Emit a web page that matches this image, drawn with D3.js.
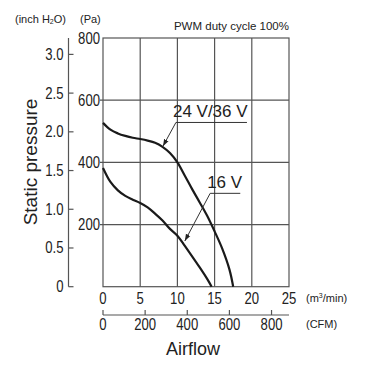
<!DOCTYPE html>
<html><head><meta charset="utf-8">
<script src="https://cdn.jsdelivr.net/npm/d3@7"></script>
<style>
html,body{margin:0;padding:0;background:#fff;}
svg text{font-family:"Liberation Sans",Arial,sans-serif;}
</style></head><body>
<svg id="c" width="365" height="368"></svg>
<script>
// Data (airflow m3/min, static pressure Pa)
const flow24 = [0,1,2,3,4,5,6,7,8,9,10,11,12,13,14,15,16,17,17.5];
const pa24   = [527,505,493,485,479,475,470,463,450,430,400,357,313,271,228,178,124,55,0];
const flow16 = [0,1,2,3,4,5,6,7,8,9,10,11,12,13,14,14.6];
const pa16   = [382,337,310,292,280,269,255,235,213,186,164,131,97,62,25,0];
const xTicks = [0,5,10,15,20,25];
const paTicks = [0,200,400,600,800];
const inchTicks = [0,0.5,1.0,1.5,2.0,2.5,3.0];
const cfmTicks = [0,200,400,600,800];
const seriesLabels = ["24 V/36 V","16 V"];
// label anchor: [textX, textPa, underlineEndX, tipX, tipPa]
const labelPos = [[9.4,546,19.35,8.06,452],[14.0,318,18.45,11.0,147]];

const svg = d3.select("#c");
const x = d3.scaleLinear([0,25],[103,289]);
const y = d3.scaleLinear([0,800],[286.7,38]);
const PA_PER_INCH = 249.089;
const yIn = d3.scaleLinear([0,800/PA_PER_INCH],[286.7,38]);
const xCfm = d3.scaleLinear([0,25*35.3147],[103,289]);
const grid = "#555";
const SX = 0.82, FS = 16;
const cond = (sel, fx, fy) => sel.attr("transform", d => `translate(${fx(d)},${fy(d)}) scale(${SX},1)`)
  .attr("font-size", FS).attr("fill", "#222");

// gridlines
svg.append("g").selectAll("line").data(xTicks.slice(1,-1)).join("line")
  .attr("x1",d=>x(d)).attr("x2",d=>x(d)).attr("y1",y(800)).attr("y2",y(0))
  .attr("stroke",grid).attr("stroke-width",1.2);
svg.append("g").selectAll("line").data(paTicks.slice(1,-1)).join("line")
  .attr("x1",x(0)-3).attr("x2",x(25)).attr("y1",d=>y(d)).attr("y2",d=>y(d))
  .attr("stroke",grid).attr("stroke-width",1.2);
svg.append("rect").attr("x",x(0)).attr("y",y(800)).attr("width",x(25)-x(0)).attr("height",y(0)-y(800))
  .attr("fill","none").attr("stroke",grid).attr("stroke-width",1.2);

// Pa labels
cond(svg.append("g").selectAll("text").data(paTicks.slice(1)).join("text")
  .attr("text-anchor","end").text(d=>d), d=>x(0)-3, d=>y(d)+5.5);

// inch axis
const ix = 68.5;
svg.append("line").attr("x1",ix).attr("x2",ix).attr("y1",y(800)).attr("y2",y(0)).attr("stroke",grid).attr("stroke-width",1.2);
svg.append("g").selectAll("line").data(inchTicks).join("line")
  .attr("x1",ix).attr("x2",ix+5).attr("y1",d=>yIn(d)).attr("y2",d=>yIn(d)).attr("stroke",grid).attr("stroke-width",1.2);
cond(svg.append("g").selectAll("text").data(inchTicks).join("text")
  .attr("text-anchor","end").text(d=>d===0?"0":d.toFixed(1)), d=>ix-5, d=>yIn(d)+5.5);

// x labels
cond(svg.append("g").selectAll("text").data(xTicks).join("text")
  .attr("text-anchor","middle").text(d=>d), d=>x(d), d=>304);

// CFM axis
const cy = 315;
svg.append("line").attr("x1",x(0)).attr("x2",x(25)).attr("y1",cy).attr("y2",cy).attr("stroke",grid).attr("stroke-width",1.2);
svg.append("g").selectAll("line").data(cfmTicks).join("line")
  .attr("x1",d=>xCfm(d)).attr("x2",d=>xCfm(d)).attr("y1",cy).attr("y2",cy-5).attr("stroke",grid).attr("stroke-width",1.2);
cond(svg.append("g").selectAll("text").data(cfmTicks).join("text")
  .attr("text-anchor","middle").text(d=>d), d=>xCfm(d), d=>330);

// unit labels
svg.append("text").attr("x",306).attr("y",302).attr("font-size",11).attr("fill","#222")
  .html('(m<tspan font-size="7" dy="-4">3</tspan><tspan dy="4">/min)</tspan>');
svg.append("text").attr("x",306).attr("y",328).attr("font-size",11).attr("fill","#222").text("(CFM)");
svg.append("text").attr("x",15).attr("y",23).attr("font-size",11).attr("fill","#222")
  .html('(inch H<tspan font-size="7" dy="1">2</tspan><tspan dy="-1">O)</tspan>');
svg.append("text").attr("x",80).attr("y",23).attr("font-size",11).attr("fill","#222").text("(Pa)");
svg.append("text").attr("x",x(25)).attr("y",30).attr("text-anchor","end").attr("font-size",11.5).attr("fill","#222").text("PWM duty cycle 100%");

// axis titles
svg.append("text").attr("x",193).attr("y",355).attr("text-anchor","middle").attr("font-size",18).attr("fill","#222").text("Airflow");
svg.append("text").attr("transform","translate(37,162) rotate(-90)").attr("text-anchor","middle").attr("font-size",19).attr("fill","#222").text("Static pressure");

// curves
const line = d3.line().x(d=>x(d[0])).y(d=>y(d[1])).curve(d3.curveCatmullRom.alpha(0.5));
[[flow24,pa24],[flow16,pa16]].forEach(([f,p])=>{
  svg.append("path").attr("d",line(f.map((v,i)=>[v,p[i]]))).attr("fill","none").attr("stroke","#1a1a1a").attr("stroke-width",2.2);
});

// labels with leaders
svg.append("defs").append("marker").attr("id","ah").attr("viewBox","0 0 10 10").attr("refX",10).attr("refY",5)
  .attr("markerWidth",7).attr("markerHeight",7).attr("orient","auto").attr("markerUnits","userSpaceOnUse")
  .append("path").attr("d","M0,1.5L10,5L0,8.5Z").attr("fill","#222");
seriesLabels.forEach((s,i)=>{
  const [tx,tp,ux,px,pp] = labelPos[i];
  const ly = y(tp)+5.5;
  svg.append("text").attr("x",x(tx)).attr("y",y(tp)).attr("font-size",17).attr("fill","#222").text(s);
  svg.append("line").attr("x1",x(tx)+3).attr("x2",x(ux)).attr("y1",ly).attr("y2",ly).attr("stroke","#333").attr("stroke-width",1);
  svg.append("line").attr("x1",x(tx)+3).attr("y1",ly).attr("x2",x(px)).attr("y2",y(pp)).attr("stroke","#333").attr("stroke-width",1).attr("marker-end","url(#ah)");
});
</script></body></html>
